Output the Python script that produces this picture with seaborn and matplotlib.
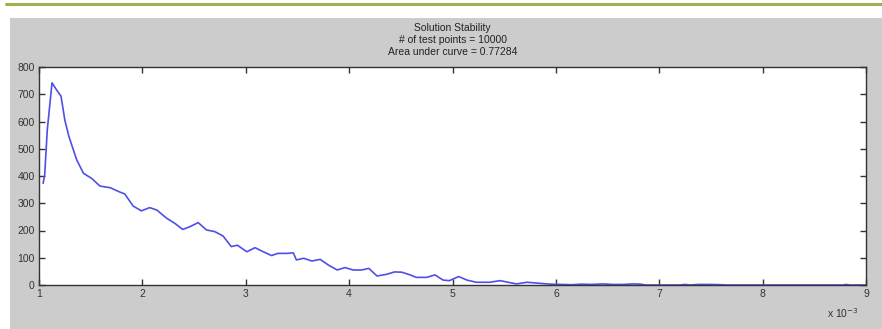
import matplotlib
matplotlib.use("Agg")
import matplotlib.pyplot as plt
from matplotlib.patches import Rectangle
from matplotlib.lines import Line2D
import numpy as np
import pandas as pd
import seaborn as sns

# Solution stability curve (x in units of 1e-3)
x_vals = [1.04, 1.055, 1.08, 1.126, 1.17, 1.213, 1.25, 1.29, 1.365, 1.43, 1.51, 1.59,
          1.69, 1.77, 1.83, 1.91, 1.99, 2.07, 2.14, 2.235, 2.315, 2.39, 2.46, 2.54,
          2.62, 2.70, 2.78, 2.86, 2.92, 3.01, 3.09, 3.17, 3.25, 3.31, 3.40, 3.46,
          3.49, 3.56, 3.64, 3.72, 3.80, 3.885, 3.96, 4.04, 4.12, 4.19, 4.27, 4.36,
          4.44, 4.51, 4.59, 4.65, 4.75, 4.83, 4.91, 4.97, 5.06, 5.14, 5.23, 5.36,
          5.46, 5.55, 5.62, 5.72, 5.85, 5.95, 6.05, 6.15, 6.25, 6.35, 6.45, 6.55,
          6.65, 6.75, 6.82, 6.87, 7.2, 7.25, 7.3, 7.38, 7.5, 7.6, 7.65, 8.78,
          8.81, 8.84, 9.0]
y_vals = [373, 404, 569, 742, 716, 693, 605, 544, 459, 410, 391, 363,
          357, 343, 334, 290, 272, 284, 275, 245, 226, 204, 214, 229,
          202, 196, 180, 141, 146, 122, 137, 122, 108, 116, 116, 118,
          92, 98, 88, 94, 73, 55, 64, 55, 55, 61, 33, 39,
          48, 47, 37, 28, 28, 37, 18, 16, 31, 18, 10, 10,
          16, 9, 4, 10, 6, 3, 2, 1, 3, 2, 4, 2,
          2, 4, 3, 0, 0, 2, 0, 2, 2, 1, 0, 0,
          2, 0, 0]

title_lines = ["Solution Stability", "# of test points = 10000", "Area under curve = 0.77284"]
x_ticks = [1, 2, 3, 4, 5, 6, 7, 8, 9]
y_ticks = [0, 100, 200, 300, 400, 500, 600, 700, 800]

df = pd.DataFrame({"x": x_vals, "y": y_vals})

sns.set_style("white")
plt.rcParams["font.family"] = ["Liberation Sans", "DejaVu Sans"]

W, H = 882, 329
fig = plt.figure(figsize=(W / 100, H / 100), dpi=100, facecolor="white")

# page header rule and grey figure panel
fig.add_artist(Line2D([6 / W, 1], [1 - 4 / H, 1 - 4 / H], color="#9db24e", lw=2.2,
                      transform=fig.transFigure))
fig.add_artist(Rectangle((10 / W, 0), 1 - 10 / W, 1 - 18 / H, transform=fig.transFigure,
                         facecolor="#cccccc", edgecolor="none", zorder=0))

ax = fig.add_axes([39 / W, (H - 285) / H, 827 / W, 218 / H])
ax.set_facecolor("white")

sns.lineplot(data=df, x="x", y="y", ax=ax, color="#4f4fe8", lw=1.2, estimator=None,
             sort=False)

ax.set_xlim(1, 9)
ax.set_ylim(0, 800)
ax.set_xticks(x_ticks)
ax.set_yticks(y_ticks)
ax.set_xticklabels([str(t) for t in x_ticks])
ax.set_yticklabels([str(t) for t in y_ticks])
ax.set_xlabel("")
ax.set_ylabel("")
for s in ax.spines.values():
    s.set_visible(True)
    s.set_color("#333333")
    s.set_linewidth(1.0)
ax.tick_params(direction="in", length=4, width=1, colors="#333333", labelsize=7.5,
               top=True, right=True, bottom=True, left=True, pad=3)
for lab in ax.get_xticklabels() + ax.get_yticklabels():
    lab.set_color("#333333")

cx = (39 + 866) / 2 / W
for i, line in enumerate(title_lines):
    fig.text(cx, 1 - (28.3 + 11.7 * i) / H, line, ha="center", va="center",
             fontsize=7.5, color="#222222")

fig.text(843 / W, 1 - 313 / H, r"x 10$^{-3}$", ha="center", va="center",
         fontsize=7.5, color="#333333")

fig.savefig("out.png", dpi=100, facecolor="white")
